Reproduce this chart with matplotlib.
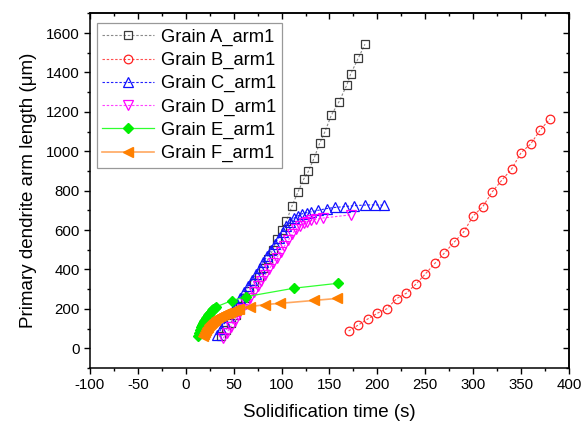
import matplotlib
matplotlib.use("Agg")
import matplotlib.pyplot as plt
from matplotlib.ticker import MultipleLocator

plt.rcParams['font.family'] = ['Liberation Sans', 'DejaVu Sans']
plt.rcParams['axes.unicode_minus'] = False

# Solidification time (s) and primary dendrite arm length (um) per grain
a_t = [37, 42, 47, 52, 57, 62, 66, 71, 76, 81, 86, 91, 95, 100, 105, 111, 117,
       123, 128, 134, 140, 145, 152, 160, 168, 172, 180, 187]
a_len = [60, 95, 130, 170, 215, 255, 290, 330, 360, 406, 455, 500, 555, 600, 645,
         724, 792, 858, 898, 966, 1044, 1096, 1184, 1252, 1335, 1391, 1472, 1543]

b_t = [170, 180, 190, 200, 210, 220, 230, 240, 250, 260, 270, 280, 290, 300,
       310, 320, 330, 340, 350, 360, 370, 380]
b_len = [88, 118, 149, 178, 201, 252, 279, 325, 377, 431, 484, 538, 590, 672,
         719, 795, 854, 909, 993, 1037, 1108, 1164]

c_t = [33, 37, 41, 45, 49, 53, 57, 61, 65, 69, 73, 77, 81, 85, 89, 93, 97, 101,
       105, 109, 113, 117, 121, 126, 131, 138, 147, 156, 166, 176, 187, 198, 207]
c_len = [68, 99, 130, 161, 192, 223, 253, 284, 315, 346, 377, 407, 438, 469, 500,
         531, 561, 592, 620, 643, 660, 672, 682, 688, 693, 700, 709, 715, 719, 724,
         727, 728, 726]

d_t = [39, 43, 47, 51, 55, 59, 63, 67, 71, 75, 79, 83, 87, 91, 95, 99, 103, 107,
       111, 115, 119, 123, 127, 131, 136, 143, 172]
d_len = [51, 80, 110, 139, 168, 197, 226, 256, 285, 314, 343, 372, 402, 431, 460,
         490, 519, 548, 578, 605, 622, 635, 643, 649, 655, 661, 677]

e_t = [13, 14, 15, 16, 17, 18, 19, 20, 21, 22, 23, 24, 25, 26, 27, 28, 30, 32,
       48, 63, 113, 159]
e_len = [62, 80, 95, 108, 118, 128, 136, 144, 152, 160, 167, 174, 180, 186, 192,
         197, 205, 211, 242, 262, 305, 330]

f_t = [18, 19, 20, 21, 22, 23, 24, 25, 26, 27, 28, 29, 30, 32, 34, 36, 38, 40,
       42, 44, 46, 48, 50, 52, 54, 56, 67, 83, 98, 134, 158]
f_len = [60, 72, 83, 93, 102, 110, 117, 123, 129, 134, 138, 142, 146, 152, 158,
         163, 168, 173, 177, 181, 185, 189, 192, 195, 198, 201, 211, 222, 228,
         243, 253]

labels = ['Grain A_arm1', 'Grain B_arm1', 'Grain C_arm1', 'Grain D_arm1',
          'Grain E_arm1', 'Grain F_arm1']

fig = plt.figure(figsize=(5.82, 4.29), dpi=100)
ax = fig.add_axes([0.1546, 0.1422, 0.8231, 0.8268])

dash = (0, (2.2, 1.6))
ax.plot(a_t, a_len, color='#8a8a8a', ls=dash, lw=0.8, marker='s', ms=5.5,
        mfc='none', mec='#3a3a3a', mew=0.9, label=labels[0])
ax.plot(b_t, b_len, color='#ff5050', ls=dash, lw=0.8, marker='o', ms=6.2,
        mfc='none', mec='#ff2020', mew=0.9, label=labels[1])
ax.plot(c_t, c_len, color='#2020ff', ls=dash, lw=0.8, marker='^', ms=7.2,
        mfc='none', mec='#1010ff', mew=0.9, label=labels[2])
ax.plot(d_t, d_len, color='#ff40ff', ls=dash, lw=0.8, marker='v', ms=7.2,
        mfc='none', mec='#ff00ff', mew=0.9, label=labels[3])
ax.plot(e_t, e_len, color='#30ff30', ls='-', lw=0.9, marker='D', ms=5.5,
        mfc='#00ee00', mec='#00ee00', label=labels[4])
ax.plot(f_t, f_len, color='#ffa860', ls='-', lw=1.2, marker='<', ms=7.2,
        mfc='#ff8000', mec='#ff8000', label=labels[5])

ax.set_xlim(-100, 400)
ax.set_ylim(-100, 1700)
ax.xaxis.set_major_locator(MultipleLocator(50))
ax.xaxis.set_minor_locator(MultipleLocator(25))
ax.yaxis.set_major_locator(MultipleLocator(200))
ax.yaxis.set_minor_locator(MultipleLocator(100))
ax.set_yticks(range(0, 1601, 200))

for s in ax.spines.values():
    s.set_linewidth(1.1)
ax.tick_params(which='major', direction='out', length=4.5, width=1.0,
               labelsize=10.8, pad=3)
ax.tick_params(which='minor', direction='out', length=2.5, width=1.0)

# mirrored ticks on top and right, pointing inward
top = ax.secondary_xaxis('top')
top.xaxis.set_major_locator(MultipleLocator(50))
top.xaxis.set_minor_locator(MultipleLocator(25))
top.tick_params(which='major', direction='in', length=4.5, width=1.0, labeltop=False)
top.tick_params(which='minor', direction='in', length=2.5, width=1.0)
top.spines['top'].set_linewidth(1.1)
right = ax.secondary_yaxis('right')
right.yaxis.set_major_locator(MultipleLocator(200))
right.yaxis.set_minor_locator(MultipleLocator(100))
right.tick_params(which='major', direction='in', length=4.5, width=1.0, labelright=False)
right.tick_params(which='minor', direction='in', length=2.5, width=1.0)
right.spines['right'].set_linewidth(1.1)

ax.set_xlabel('Solidification time (s)', fontsize=13.5, labelpad=8)
ax.set_ylabel('Primary dendrite arm length (\u03bcm)', fontsize=13.5, labelpad=6)

leg = ax.legend(loc='upper left', bbox_to_anchor=(0.014, 0.972),
                borderaxespad=0, fontsize=13.2, frameon=True, fancybox=False,
                edgecolor='#808080', handlelength=2.85, handletextpad=0.35,
                labelspacing=0.33, borderpad=0.3)
leg.get_frame().set_linewidth(0.9)

fig.savefig('out.png', dpi=100)
